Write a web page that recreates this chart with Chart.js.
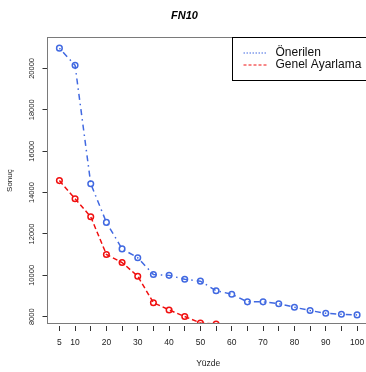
<!DOCTYPE html>
<html>
<head>
<meta charset="utf-8">
<script src="https://cdn.jsdelivr.net/npm/chart.js@4"></script>
<style>
  html, body { margin: 0; padding: 0; background: #fff; overflow: hidden; }
  #wrap { width: 416px; height: 372px; }
</style>
</head>
<body>
<div id="wrap"><canvas id="fn10Chart" width="416" height="372"></canvas></div>
<script>
// Chart data
const yuzde = [5, 10, 15, 20, 25, 30, 35, 40, 45, 50, 55, 60, 65, 70, 75, 80, 85, 90, 95, 100];
const onerilen = [20980, 20150, 14430, 12560, 11280, 10850, 10040, 10000, 9810, 9720,
                  9260, 9090, 8720, 8720, 8630, 8460, 8300, 8170, 8120, 8090];
const genelAyarlama = [14580, 13700, 12830, 11010, 10620, 9960, 8680, 8330, 8010, 7700, 7650];
const xTicks = [5, 10, 15, 20, 25, 30, 35, 40, 45, 50, 55, 60, 65, 70, 75, 80, 85, 90, 95, 100];
const xLabels = [5, 10, 20, 30, 40, 50, 60, 70, 80, 90, 100];
const yTicks = [8000, 10000, 12000, 14000, 16000, 18000, 20000];

const FONT = '"Liberation Sans", Arial, Helvetica, sans-serif';
const BLUE = '#4169E1';
const RED = '#F01010';

function toPoints(xs, ys) {
    return ys.map(function (v, i) { return { x: xs[i], y: v }; });
}

// box around the plot region
const plotBox = {
    id: 'plotBox',
    afterDatasetsDraw(chart) {
        const a = chart.chartArea;
        const ctx = chart.ctx;
        ctx.save();
        ctx.strokeStyle = '#7a7a7a';
        ctx.lineWidth = 1;
        ctx.strokeRect(Math.round(a.left) - 0.5, Math.round(a.top) + 0.5,
                       Math.round(a.right - a.left), Math.round(a.bottom - a.top) - 1);
        ctx.restore();
    }
};

// R style legend, top right inside the plot
const boxLegend = {
    id: 'boxLegend',
    afterDraw(chart) {
        const a = chart.chartArea;
        const ctx = chart.ctx;
        const w = 137, h = 43;
        const lx = Math.round(a.right - w) + 0.5;
        const ly = Math.round(a.top) + 0.5;
        ctx.save();
        ctx.fillStyle = '#fff';
        ctx.fillRect(lx, ly, w, h);
        ctx.strokeStyle = '#000';
        ctx.lineWidth = 1;
        ctx.strokeRect(lx, ly, w, h);
        chart.data.datasets.forEach(function (ds, i) {
            const y = ly + 15.5 + i * 12;
            ctx.strokeStyle = ds.borderColor;
            ctx.lineWidth = 1;
            ctx.setLineDash(ds.legendDash);
            ctx.beginPath();
            ctx.moveTo(lx + 11, y);
            ctx.lineTo(lx + 34, y);
            ctx.stroke();
            ctx.setLineDash([]);
            ctx.fillStyle = '#111';
            ctx.font = '12px ' + FONT;
            ctx.textBaseline = 'middle';
            ctx.textAlign = 'left';
            ctx.fillText(ds.label, lx + 43, y);
        });
        ctx.restore();
    }
};

new Chart(document.getElementById('fn10Chart'), {
    type: 'line',
    data: {
        datasets: [{
            label: 'Önerilen',
            data: toPoints(yuzde, onerilen),
            borderColor: BLUE,
            borderWidth: 1.5,
            borderDash: [1.5, 4, 6, 4],
            pointStyle: 'circle',
            pointRadius: 2.8,
            pointBorderWidth: 1.5,
            pointBorderColor: BLUE,
            pointBackgroundColor: 'rgba(0,0,0,0)',
            legendDash: [1.5, 1.5],
            tension: 0
        }, {
            label: 'Genel Ayarlama',
            data: toPoints(yuzde, genelAyarlama),
            borderColor: RED,
            borderWidth: 1.5,
            borderDash: [5, 3],
            pointStyle: 'circle',
            pointRadius: 2.8,
            pointBorderWidth: 1.5,
            pointBorderColor: RED,
            pointBackgroundColor: 'rgba(0,0,0,0)',
            legendDash: [3, 2],
            tension: 0
        }]
    },
    options: {
        responsive: false,
        animation: false,
        devicePixelRatio: 1,
        layout: { padding: { left: 0, top: 0, right: 47, bottom: 0 } },
        plugins: {
            legend: { display: false },
            tooltip: { enabled: false },
            title: {
                display: true,
                text: 'FN10',
                color: '#000',
                font: { family: FONT, size: 11, weight: 'bold', style: 'italic' },
                padding: { top: 9, bottom: 15 }
            }
        },
        scales: {
            x: {
                type: 'linear',
                min: 1.2,
                max: 103.8,
                border: { display: false },
                grid: {
                    drawOnChartArea: false,
                    tickLength: 7,
                    tickColor: '#333',
                    tickBorderDash: [0, 2, 5, 20]
                },
                afterBuildTicks: function (scale) {
                    scale.ticks = xTicks.map(function (v) { return { value: v }; });
                },
                afterFit: function (scale) { scale.height = 48; },
                ticks: {
                    autoSkip: false,
                    maxRotation: 0,
                    padding: 7,
                    color: '#222',
                    font: { family: FONT, size: 8.5 },
                    callback: function (value) {
                        return xLabels.indexOf(value) >= 0 ? String(value) : '';
                    }
                },
                title: {
                    display: true,
                    text: 'Yüzde',
                    color: '#222',
                    font: { family: FONT, size: 8.5 },
                    padding: { top: 4, bottom: 3.4 }
                }
            },
            y: {
                type: 'linear',
                min: 7650,
                max: 21510,
                border: { display: false },
                grid: {
                    drawOnChartArea: false,
                    tickLength: 6,
                    tickColor: '#333',
                    tickBorderDash: [0, 1, 5, 20]
                },
                afterBuildTicks: function (scale) {
                    scale.ticks = yTicks.map(function (v) { return { value: v }; });
                },
                afterFit: function (scale) { scale.width = 47.5; },
                ticks: {
                    autoSkip: false,
                    minRotation: 90,
                    maxRotation: 90,
                    crossAlign: 'center',
                    padding: -1,
                    color: '#222',
                    font: { family: FONT, size: 7.5 },
                    callback: function (value) { return String(value); }
                },
                title: {
                    display: true,
                    text: 'Sonuç',
                    color: '#222',
                    font: { family: FONT, size: 8 },
                    padding: { top: 4.5, bottom: 0 }
                }
            }
        }
    },
    plugins: [plotBox, boxLegend]
});
</script>
</body>
</html>
